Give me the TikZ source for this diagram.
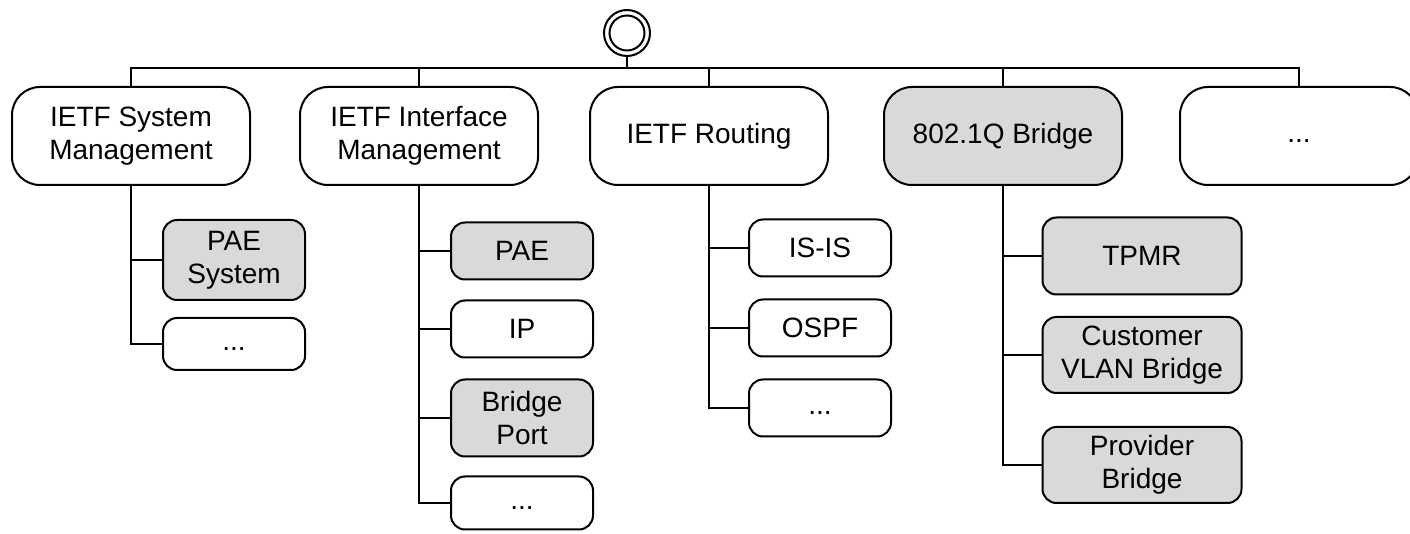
\documentclass[tikz,border=0pt]{standalone}
\usepackage{fontspec}
\setmainfont{Liberation Sans}
\usetikzlibrary{positioning}
\tikzset{
  topbox/.style={
    rectangle, rounded corners=14pt, minimum width=119pt, minimum height=49pt,
    draw, line width=1pt, align=center, inner sep=0pt,
    font=\fontsize{14}{16.5}\selectfont
  },
  subbox/.style={
    rectangle, rounded corners=7pt, minimum width=71pt, minimum height=28.5pt,
    draw, line width=1pt, align=center, inner sep=0pt,
    font=\fontsize{14}{16.5}\selectfont
  },
  rootring/.style={circle, draw, line width=1pt, inner sep=0pt},
  grey/.style={fill=gray!30},
  tree/.style={line width=1pt}
}

\begin{document}
\begin{tikzpicture}[x=0.5pt, y=-0.5pt]
  \useasboundingbox (0,0) rectangle (1410,534);

  % Wurzel
  \node[rootring, minimum size=23pt] (root) at (627,33) {};
  \node[rootring, minimum size=17.5pt] (rootin) at (root) {};
  \coordinate (bus) at (627,68);

  % Module
  \node[topbox] (sys) at (131,136) {IETF System\\Management};
  \node[topbox] (iface) at (419,136) {IETF Interface\\Management};
  \node[topbox] (routing) at (709,136) {IETF Routing};
  \node[topbox, grey] (bridge) at (1003,136) {802.1Q Bridge};
  \node[topbox] (more) at (1299,136) {\strut...};

  % Untermodule
  \node[subbox, grey, minimum height=40pt] (sysPae) at (234,260) {PAE\\System};
  \node[subbox, minimum height=26pt] (sysMore) at (234,344) {\strut...};

  \node[subbox, grey] (ifPae) at (522,251) {PAE};
  \node[subbox] (ifIp) at (522,329) {IP};
  \node[subbox, grey, minimum height=38.5pt] (ifPort) at (522,418) {Bridge\\Port};
  \node[subbox, minimum height=26.5pt] (ifMore) at (522,503) {\strut...};

  \node[subbox] (rtIsis) at (820,248) {IS-IS};
  \node[subbox] (rtOspf) at (820,328) {OSPF};
  \node[subbox] (rtMore) at (820,408) {\strut...};

  \node[subbox, grey, minimum width=99.5pt, minimum height=38.5pt] (brTpmr) at (1142,256) {TPMR};
  \node[subbox, grey, minimum width=99.5pt, minimum height=38pt] (brCvlan) at (1142,355) {Customer\\VLAN Bridge};
  \node[subbox, grey, minimum width=99.5pt, minimum height=38pt] (brProv) at (1142,465) {Provider\\Bridge};

  % Verbindungen oben
  \draw[tree] (root.south) -- (bus);
  \draw[tree] (sys.north) |- (bus) -| (more.north);
  \draw[tree] (iface.north) -- (iface.north |- bus);
  \draw[tree] (routing.north) -- (routing.north |- bus);
  \draw[tree] (bridge.north) -- (bridge.north |- bus);

  % Verbindungen unten
  \draw[tree] (sys.south) |- (sysPae.west);
  \draw[tree] (sys.south) |- (sysMore.west);
  \draw[tree] (iface.south) |- (ifPae.west);
  \draw[tree] (iface.south) |- (ifIp.west);
  \draw[tree] (iface.south) |- (ifPort.west);
  \draw[tree] (iface.south) |- (ifMore.west);
  \draw[tree] (routing.south) |- (rtIsis.west);
  \draw[tree] (routing.south) |- (rtOspf.west);
  \draw[tree] (routing.south) |- (rtMore.west);
  \draw[tree] (bridge.south) |- (brTpmr.west);
  \draw[tree] (bridge.south) |- (brCvlan.west);
  \draw[tree] (bridge.south) |- (brProv.west);
\end{tikzpicture}
\end{document}
